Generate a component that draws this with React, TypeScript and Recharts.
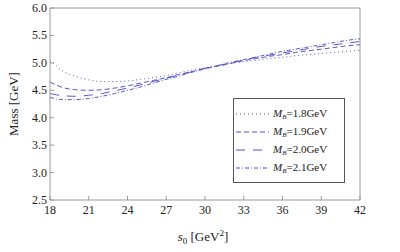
import { LineChart, Line, XAxis, YAxis, ReferenceLine, Label } from "recharts";

const s0 = [18, 19, 20, 21, 22, 23, 24, 25, 26, 27, 28, 29, 30, 31, 32, 33, 34, 35, 36, 37, 38, 39, 40, 41, 42];
const mb18 = [5.05, 4.85, 4.75, 4.69, 4.66, 4.66, 4.67, 4.70, 4.73, 4.77, 4.82, 4.87, 4.91, 4.95, 4.99, 5.02, 5.05, 5.08, 5.10, 5.13, 5.15, 5.17, 5.19, 5.21, 5.23];
const mb19 = [4.65, 4.55, 4.51, 4.50, 4.51, 4.54, 4.58, 4.63, 4.68, 4.73, 4.79, 4.84, 4.90, 4.94, 4.99, 5.04, 5.08, 5.12, 5.15, 5.19, 5.22, 5.25, 5.28, 5.31, 5.33];
const mb20 = [4.44, 4.40, 4.39, 4.41, 4.44, 4.49, 4.54, 4.60, 4.66, 4.72, 4.78, 4.84, 4.90, 4.95, 5.00, 5.05, 5.10, 5.14, 5.18, 5.22, 5.26, 5.30, 5.33, 5.36, 5.39];
const mb21 = [4.37, 4.33, 4.33, 4.35, 4.39, 4.44, 4.50, 4.56, 4.63, 4.70, 4.76, 4.83, 4.89, 4.95, 5.01, 5.06, 5.11, 5.16, 5.21, 5.25, 5.29, 5.33, 5.37, 5.41, 5.44];

const xTicks = [18, 21, 24, 27, 30, 33, 36, 39, 42];
const yTicks = [2.5, 3.0, 3.5, 4.0, 4.5, 5.0, 5.5, 6.0];

const series = [
  { key: "m18", label: "1.8GeV", dash: "1 3", values: mb18 },
  { key: "m19", label: "1.9GeV", dash: "5 3", values: mb19 },
  { key: "m20", label: "2.0GeV", dash: "9 8", values: mb20 },
  { key: "m21", label: "2.1GeV", dash: "4 2 1 2", values: mb21 },
];

const data = s0.map((s, i) => {
  const row: Record<string, number> = { s };
  series.forEach((sr) => (row[sr.key] = sr.values[i]));
  return row;
});

const FONT = "'Liberation Serif', 'DejaVu Serif', serif";
const AXIS = "#9a9a9a";
const LINE = "#5a5ac8";

function XTick(props: any) {
  const { x, y, payload } = props;
  return (
    <g>
      <line x1={x} y1={y} x2={x} y2={y - 4} stroke={AXIS} />
      <text x={x} y={y + 14} textAnchor="middle" fontFamily={FONT} fontSize={12} fill="#222">
        {payload.value}
      </text>
    </g>
  );
}

function YTick(props: any) {
  const { x, y, payload } = props;
  return (
    <g>
      <line x1={x} y1={y} x2={x + 4} y2={y} stroke={AXIS} />
      <text x={x - 3} y={y + 4} textAnchor="end" fontFamily={FONT} fontSize={12} fill="#222">
        {Number(payload.value).toFixed(1)}
      </text>
    </g>
  );
}

function ChartLegend() {
  return (
    <div
      style={{
        position: "absolute",
        left: 233,
        top: 98,
        border: "1px solid #555",
        width: 112,
        height: 85,
        boxSizing: "border-box",
        background: "#fff",
        paddingTop: 6,
      }}
    >
      {series.map((sr) => (
        <div key={sr.key} style={{ display: "flex", alignItems: "center", height: 18 }}>
          <svg width={37} height={10} style={{ marginLeft: 2, flex: "none" }}>
            <line x1={0} y1={5} x2={33} y2={5} stroke="#4a4af0" strokeDasharray={sr.dash} />
          </svg>
          <span style={{ fontFamily: FONT, fontSize: 11, color: "#222", whiteSpace: "nowrap", lineHeight: "12px" }}>
            <i>M</i>
            <span style={{ fontSize: 7, position: "relative", top: 2 }}><i>B</i></span>={sr.label}
          </span>
        </div>
      ))}
    </div>
  );
}

export default function App() {
  return (
    <div style={{ position: "absolute", left: 0, top: 0, width: 400, height: 252, background: "#fff" }}>
      <LineChart width={400} height={252} data={data} margin={{ top: 8, right: 40, bottom: 0, left: 0 }}>
        <XAxis
          dataKey="s"
          type="number"
          domain={[18, 42]}
          ticks={xTicks}
          height={52}
          stroke={AXIS}
          tickLine={false}
          tickSize={0}
          tickMargin={0}
          tick={<XTick />}
          interval={0}
        >
          <Label
            content={(p: any) => {
              const vb = p.viewBox;
              return (
                <text x={vb.x + vb.width / 2 - 2} y={vb.y + 41} textAnchor="middle" fontFamily={FONT} fontSize={13} fill="#222">
                  <tspan fontStyle="italic">s</tspan>
                  <tspan fontSize={9} dy={3}>0</tspan>
                  <tspan dy={-3}> [GeV</tspan>
                  <tspan fontSize={9} dy={-5}>2</tspan>
                  <tspan dy={5}>]</tspan>
                </text>
              );
            }}
          />
        </XAxis>
        <YAxis
          type="number"
          domain={[2.5, 6]}
          ticks={yTicks}
          width={50}
          stroke={AXIS}
          tickLine={false}
          tickSize={0}
          tickMargin={0}
          tick={<YTick />}
          interval={0}
        >
          <Label
            content={(p: any) => {
              const vb = p.viewBox;
              const cx = 18;
              const cy = vb.y + vb.height / 2;
              return (
                <text x={cx} y={cy} transform={`rotate(-90 ${cx} ${cy})`} textAnchor="middle" fontFamily={FONT} fontSize={13} fill="#222">
                  Mass [GeV]
                </text>
              );
            }}
          />
        </YAxis>
        <ReferenceLine y={6} stroke={AXIS} />
        <ReferenceLine x={42} stroke={AXIS} />
        {series.map((sr) => (
          <Line
            key={sr.key}
            dataKey={sr.key}
            type="monotone"
            stroke={LINE}
            strokeWidth={1}
            strokeDasharray={sr.dash}
            dot={false}
            isAnimationActive={false}
          />
        ))}
      </LineChart>
      <ChartLegend />
    </div>
  );
}
